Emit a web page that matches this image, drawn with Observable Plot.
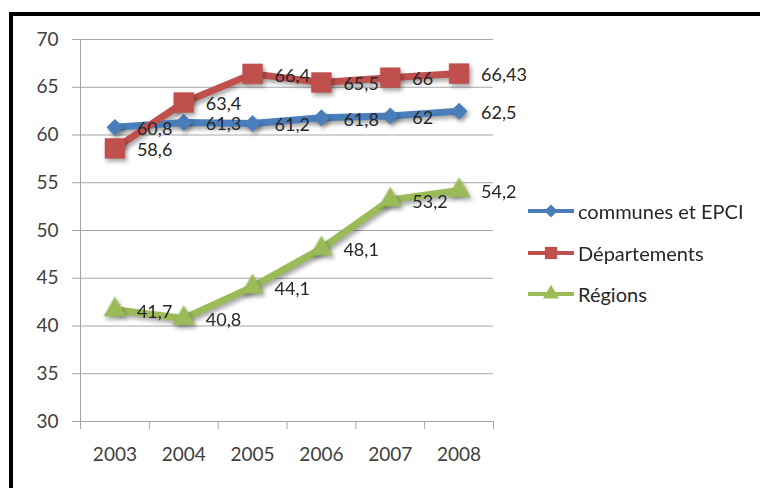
<!DOCTYPE html>
<html>
<head>
<meta charset="utf-8">
<script src="https://cdn.jsdelivr.net/npm/d3@7"></script>
<script src="https://cdn.jsdelivr.net/npm/@observablehq/plot@0.6"></script>
<style>
  html, body { margin: 0; padding: 0; background: #fff; }
  #wrap { position: relative; width: 760px; height: 488px; overflow: hidden; }
  #frame { position: absolute; left: 9px; top: 12px; width: 800px; height: 520px;
           border-top: 4px solid #000; border-left: 4px solid #000; pointer-events: none; }
  #legend { position: absolute; left: 527px; top: 200px; font-family: Lato, "Open Sans", sans-serif;
            font-size: 20px; color: #262626; }
  .item { display: flex; align-items: center; height: 22px; margin-bottom: 19.5px; white-space: nowrap; }
  .item svg { margin-right: 3px; }
</style>
</head>
<body>
<div id="wrap">
  <div id="chart"></div>
  <div id="legend"></div>
  <div id="frame"></div>
</div>
<script>
const years = [2003, 2004, 2005, 2006, 2007, 2008];
const seriesNames = ["communes et EPCI", "Départements", "Régions"];
const communes = [60.8, 61.3, 61.2, 61.8, 62, 62.5];
const departements = [58.6, 63.4, 66.4, 65.5, 66, 66.43];
const regions = [41.7, 40.8, 44.1, 48.1, 53.2, 54.2];
const colors = ["#4a7ebb", "#c0504d", "#9bbb59"];
const symbols = ["diamond2", "square", "triangle"];
const radii = [7.4, 11.2, 8.2];
const yTicks = [30, 35, 40, 45, 50, 55, 60, 65, 70];

const seriesValues = [communes, departements, regions];
const data = [];
seriesValues.forEach((vals, si) => {
  vals.forEach((v, i) => data.push({ series: seriesNames[si], year: years[i], value: v }));
});
const fmt = v => String(v).replace(".", ",");
const boundaries = [...years.map(y => y - 0.5), years[years.length - 1] + 0.5];
const shadow = "drop-shadow(2px 3px 2px rgba(0,0,0,0.35))";

const marks = [
  Plot.ruleY(yTicks, { stroke: "#a6a6a6", strokeWidth: 1 }),
  Plot.ruleX([boundaries[0]], { stroke: "#a6a6a6", strokeWidth: 1 }),
  Plot.axisY({ ticks: yTicks, tickSize: 8, tickPadding: 14, stroke: "#a6a6a6", fill: "#404040",
               label: null, fontSize: 19 }),
  Plot.axisX({ ticks: boundaries, tickSize: 8, tickFormat: () => "", stroke: "#a6a6a6", label: null }),
  Plot.axisX({ ticks: years, tickSize: 0, tickPadding: 26, tickFormat: d => String(d),
               fill: "#404040", label: null, fontSize: 19 }),
  Plot.line(data, { x: "year", y: "value", z: "series", stroke: "series", strokeWidth: 7,
                    imageFilter: shadow })
];
seriesNames.forEach((name, si) => {
  marks.push(Plot.dot(data.filter(d => d.series === name), {
    x: "year", y: "value", symbol: () => symbols[si], r: radii[si], fill: colors[si],
    stroke: colors[si], strokeWidth: 0.5, imageFilter: shadow
  }));
});
marks.push(Plot.text(data, { x: "year", y: "value", text: d => fmt(d.value), dx: 22, dy: 2,
  textAnchor: "start", fontSize: 18, fill: "#262626" }));

const chart = Plot.plot({
  width: 760, height: 488,
  marginLeft: 80, marginRight: 267, marginTop: 39, marginBottom: 67,
  x: { type: "linear", domain: [boundaries[0], boundaries[boundaries.length - 1]] },
  y: { domain: [30, 70] },
  color: { domain: seriesNames, range: colors },
  symbol: { type: "identity" },
  style: { fontFamily: "Lato, 'Open Sans', sans-serif", fontSize: "19px", background: "transparent" },
  marks
});
document.getElementById("chart").appendChild(chart);

// legend
const legend = d3.select("#legend");
seriesNames.forEach((name, si) => {
  const item = legend.append("div").attr("class", "item");
  const svg = item.append("svg").attr("width", 48).attr("height", 20);
  svg.append("line").attr("x1", 1).attr("x2", 47).attr("y1", 10).attr("y2", 10)
    .attr("stroke", colors[si]).attr("stroke-width", 4);
  const sym = { diamond2: d3.symbolDiamond2, square: d3.symbolSquare, triangle: d3.symbolTriangle }[symbols[si]];
  const sz = [110, 150, 110][si];
  svg.append("path").attr("d", d3.symbol(sym, sz)()).attr("transform", "translate(24,10)")
    .attr("fill", colors[si]);
  item.append("span").text(name);
});
</script>
</body>
</html>
